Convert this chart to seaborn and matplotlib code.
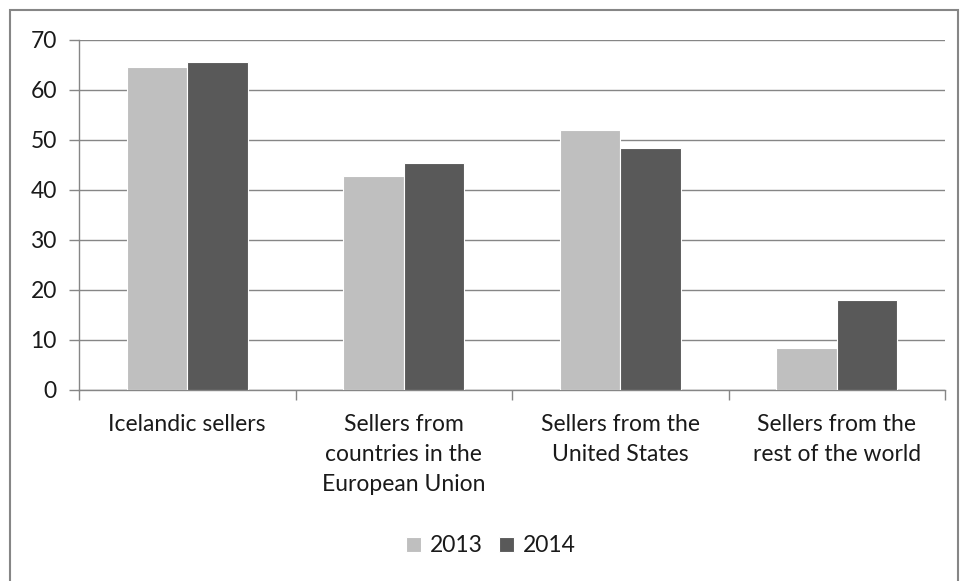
import matplotlib
matplotlib.use("Agg")
import matplotlib.pyplot as plt
import seaborn as sns
import pandas as pd
from matplotlib.patches import Rectangle

categories = ["Icelandic sellers",
              "Sellers from\ncountries in the\nEuropean Union",
              "Sellers from the\nUnited States",
              "Sellers from the\nrest of the world"]
values_2013 = [64.7, 42.9, 52.1, 8.5]
values_2014 = [65.7, 45.5, 48.5, 18.0]
years = ["2013", "2014"]
y_ticks = [0, 10, 20, 30, 40, 50, 60, 70]

df = pd.DataFrame({
    "category": categories * 2,
    "year": [years[0]] * 4 + [years[1]] * 4,
    "value": values_2013 + values_2014,
})

sns.set_theme(style="white")
plt.rcParams["font.family"] = ["Lato", "DejaVu Sans"]

fig = plt.figure(figsize=(9.6, 5.81), dpi=100)
ax = fig.add_axes([79/960, 1 - 390/581, (945 - 79)/960, (390 - 40)/581])

grid_c = "#868686"
txt_c = "#1a1a1a"
fs = 16.5
sns.barplot(data=df, x="category", y="value", hue="year",
            palette={"2013": "#BFBFBF", "2014": "#595959"},
            width=0.56, gap=0, edgecolor="white", linewidth=0.8,
            saturation=1, ax=ax, zorder=3)

ax.set_ylim(0, 70)
ax.set_xlim(-0.5, 3.5)
ax.set_yticks(y_ticks)
ax.set_yticklabels([str(t) for t in y_ticks], fontsize=fs, color=txt_c)
ax.yaxis.grid(True, color=grid_c, linewidth=1.0, zorder=0)
ax.set_axisbelow(True)
ax.set_xlabel("")
ax.set_ylabel("")

ax.set_xticks([0, 1, 2, 3])
ax.set_xticklabels(categories, fontsize=fs, color=txt_c, linespacing=1.55, va="top")
ax.tick_params(axis="x", which="major", length=0, pad=17)
ax.set_xticks([-0.5, 0.5, 1.5, 2.5, 3.5], minor=True)
ax.tick_params(axis="x", which="minor", bottom=True, length=7, width=1,
               color=grid_c, direction="out")
ax.tick_params(axis="y", which="major", left=True, length=7, width=1,
               color=grid_c, direction="out", pad=9)

for s in ["top", "right"]:
    ax.spines[s].set_visible(False)
for s in ["left", "bottom"]:
    ax.spines[s].set_color(grid_c)
    ax.spines[s].set_linewidth(1.0)

leg = ax.legend(loc="center", bbox_to_anchor=(491/960, 1 - 546/581),
                bbox_transform=fig.transFigure, ncol=2, frameon=False,
                fontsize=fs, handlelength=0.65, handleheight=0.65,
                handletextpad=0.4, columnspacing=0.7)
for t in leg.get_texts():
    t.set_color(txt_c)

fig.patches.append(Rectangle((10/960, -0.01), (958 - 10)/960, 1 - 10/581 + 0.01,
                             transform=fig.transFigure, fill=False,
                             edgecolor="#868686", linewidth=1.5))

fig.savefig("out.png", dpi=100)
